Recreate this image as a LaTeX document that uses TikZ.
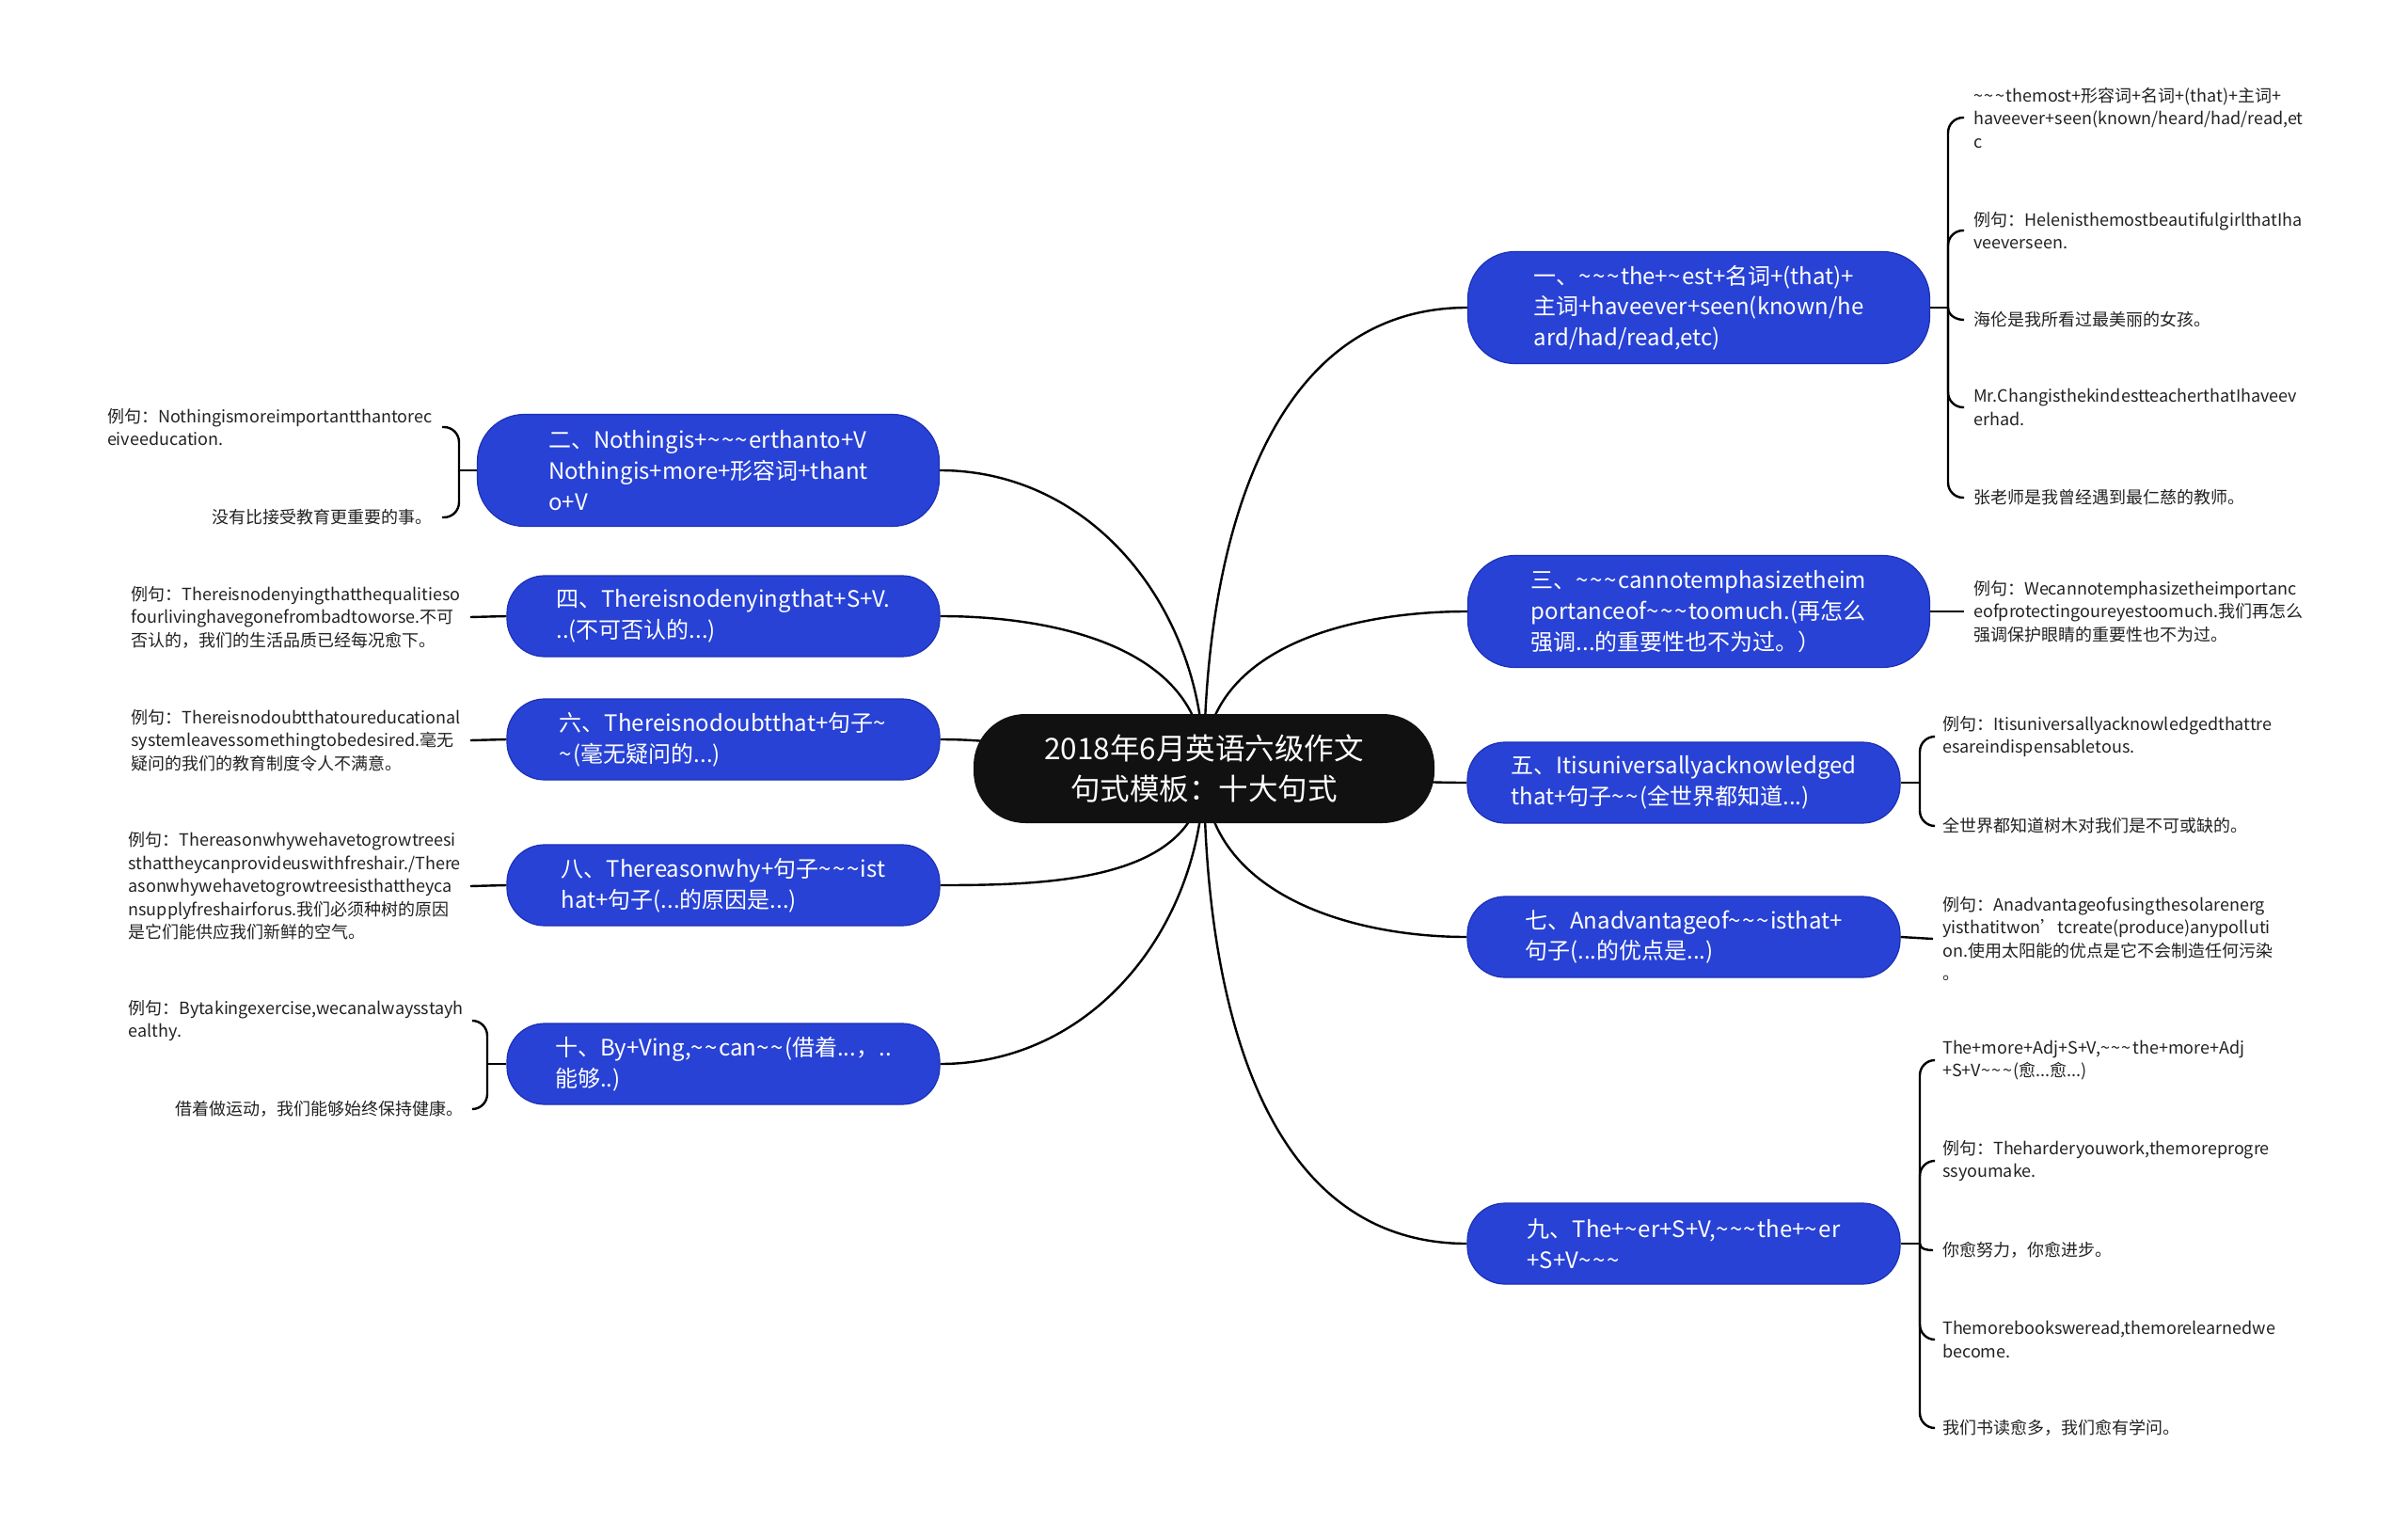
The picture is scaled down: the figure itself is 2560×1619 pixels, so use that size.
\documentclass[tikz,border=0pt]{standalone}
\usepackage{fontspec}
\setmainfont{Noto Sans CJK SC}
\usetikzlibrary{backgrounds}

\definecolor{topicblue}{RGB}{40,66,214}
\definecolor{topicline}{RGB}{28,48,180}
\definecolor{rootblack}{RGB}{17,17,17}
\definecolor{leaftext}{RGB}{34,34,34}

\newcommand{\tld}{\string~\kern1.5pt}

\tikzset{
  root/.style={fill=rootblack, text=white, rounded corners=55pt, align=center,
    minimum width=490pt, minimum height=116pt, inner sep=0pt,
    font=\fontsize{31.5}{42.4}\selectfont},
  topic/.style={fill=topicblue, draw=topicline, line width=1.2pt, text=white,
    rounded corners=40pt, align=left, minimum width=460pt, minimum height=86pt,
    inner sep=0pt, font=\fontsize{24}{32.6}\selectfont},
  tall/.style={minimum width=491pt, minimum height=119pt, rounded corners=50pt},
  leaf/.style={align=left, text=leaftext, inner xsep=10pt, inner ysep=2pt,
    font=\fontsize{18}{24.5}\selectfont},
  link/.style={line width=2.4pt, black},
  brace/.style={rounded corners=16pt}
}

\begin{document}
\begin{tikzpicture}[x=1pt,y=1pt]
    \useasboundingbox (0,0) rectangle (2560,-1619);

    %
    \node[root] (root) at (1280,-817) {2018年6月英语六级作文\\句式模板：十大句式};

    %
    \node[topic, tall] (n1) at (1806,-327) {一、\tld\tld\tld the+\tld est+名词+(that)+\\主词+haveever+seen(known/he\\ard/had/read,etc)};
    \node[topic, tall] (n3) at (1806,-650) {三、\tld\tld\tld cannotemphasizetheim\\portanceof\tld\tld\tld toomuch.(再怎么\\强调...的重要性也不为过。）};
    \node[topic] (n5) at (1790,-832) {五、Itisuniversallyacknowledged\\that+句子\tld\tld(全世界都知道...)};
    \node[topic] (n7) at (1790,-996) {七、Anadvantageof\tld\tld\tld isthat+\\句子(...的优点是...)};
    \node[topic] (n9) at (1790,-1322) {九、The+\tld er+S+V,\tld\tld\tld the+\tld er\\+S+V\tld\tld\tld};

    %
    \node[topic, tall] (n2) at (753,-500) {二、Nothingis+\tld\tld\tld erthanto+V\\Nothingis+more+形容词+thant\\o+V};
    \node[topic] (n4) at (769,-655) {四、Thereisnodenyingthat+S+V.\\..(不可否认的...)};
    \node[topic] (n6) at (769,-786) {六、Thereisnodoubtthat+句子\tld\\\tld(毫无疑问的...)};
    \node[topic] (n8) at (769,-941) {八、Thereasonwhy+句子\tld\tld\tld ist\\hat+句子(...的原因是...)};
    \node[topic] (n10) at (769,-1131) {十、By+Ving,\tld\tld can\tld\tld(借着...，..\\能够..)};

    %
    \begin{scope}[on background layer]
        \fill[white] (0,0) rectangle (2560,-1619);
        \draw[link] (root.center) to[out=90,in=180] (n1.west);
        \draw[link] (root.center) to[out=90,in=180] (n3.west);
        \draw[link] (root.center) to[out=0,in=180] (n5.west);
        \draw[link] (root.center) to[out=-90,in=180] (n7.west);
        \draw[link] (root.center) to[out=-90,in=180] (n9.west);
        \draw[link] (root.center) to[out=90,in=0] (n2.east);
        \draw[link] (root.center) to[out=90,in=0] (n4.east);
        \draw[link] (root.center) to[out=180,in=0] (n6.east);
        \draw[link] (root.center) to[out=-90,in=0] (n8.east);
        \draw[link] (root.center) to[out=-90,in=0] (n10.east);
    \end{scope}

    %
    \coordinate (j1) at (2071,-327);
    \node[leaf, anchor=west] (l1a) at (2088,-125) {\tld\tld\tld themost+形容词+名词+(that)+主词+\\haveever+seen(known/heard/had/read,et\\c};
    \node[leaf, anchor=west] (l1b) at (2088,-245) {例句：HelenisthemostbeautifulgirlthatIha\\veeverseen.};
    \node[leaf, anchor=west] (l1c) at (2088,-340) {海伦是我所看过最美丽的女孩。};
    \node[leaf, anchor=west] (l1d) at (2088,-433) {Mr.ChangisthekindestteacherthatIhaveev\\erhad.};
    \node[leaf, anchor=west] (l1e) at (2088,-529) {张老师是我曾经遇到最仁慈的教师。};
    \draw[link] (n1.east) -- (j1);
    \draw[link, brace] (j1) |- (l1a.west);
    \draw[link, brace] (j1) |- (l1b.west);
    \draw[link] (j1) to[out=-90,in=180] (l1c.west);
    \draw[link, brace] (j1) |- (l1d.west);
    \draw[link, brace] (j1) |- (l1e.west);

    %
    \node[leaf, anchor=west] (l3) at (2088,-650) {例句：Wecannotemphasizetheimportanc\\eofprotectingoureyestoomuch.我们再怎么\\强调保护眼睛的重要性也不为过。};
    \draw[link] (n3.east) -- (l3.west);

    %
    \coordinate (j5) at (2041,-832);
    \node[leaf, anchor=west] (l5a) at (2055,-783) {例句：Itisuniversallyacknowledgedthattre\\esareindispensabletous.};
    \node[leaf, anchor=west] (l5b) at (2055,-878) {全世界都知道树木对我们是不可或缺的。};
    \draw[link] (n5.east) -- (j5);
    \draw[link, brace] (j5) |- (l5a.west);
    \draw[link, brace] (j5) |- (l5b.west);

    %
    \node[leaf, anchor=west] (l7) at (2055,-998) {例句：Anadvantageofusingthesolarenerg\\yisthatitwon’tcreate(produce)anypolluti\\on.使用太阳能的优点是它不会制造任何污染\\。};
    \draw[link] (n7.east) -- (l7.west);

    %
    \coordinate (j9) at (2041,-1322);
    \node[leaf, anchor=west] (l9a) at (2055,-1127) {The+more+Adj+S+V,\tld\tld\tld the+more+Adj\\+S+V\tld\tld\tld(愈...愈...)};
    \node[leaf, anchor=west] (l9b) at (2055,-1234) {例句：Theharderyouwork,themoreprogre\\ssyoumake.};
    \node[leaf, anchor=west] (l9c) at (2055,-1329) {你愈努力，你愈进步。};
    \node[leaf, anchor=west] (l9d) at (2055,-1424) {Themorebooksweread,themorelearnedwe\\become.};
    \node[leaf, anchor=west] (l9e) at (2055,-1518) {我们书读愈多，我们愈有学问。};
    \draw[link] (n9.east) -- (j9);
    \draw[link, brace] (j9) |- (l9a.west);
    \draw[link, brace] (j9) |- (l9b.west);
    \draw[link] (j9) to[out=-90,in=180] (l9c.west);
    \draw[link, brace] (j9) |- (l9d.west);
    \draw[link, brace] (j9) |- (l9e.west);

    %
    \coordinate (j2) at (488,-500);
    \node[leaf, anchor=east] (l2a) at (470,-454) {例句：Nothingismoreimportantthantorec\\eiveeducation.};
    \node[leaf, anchor=east] (l2b) at (470,-550) {没有比接受教育更重要的事。};
    \draw[link] (n2.west) -- (j2);
    \draw[link, brace] (j2) |- (l2a.east);
    \draw[link, brace] (j2) |- (l2b.east);

    %
    \node[leaf, anchor=east] (l4) at (500,-656) {例句：Thereisnodenyingthatthequalitieso\\fourlivinghavegonefrombadtoworse.不可\\否认的，我们的生活品质已经每况愈下。};
    \draw[link] (n4.west) -- (l4.east);

    \node[leaf, anchor=east] (l6) at (500,-787) {例句：Thereisnodoubtthatoureducational\\systemleavessomethingtobedesired.毫无\\疑问的我们的教育制度令人不满意。};
    \draw[link] (n6.west) -- (l6.east);

    \node[leaf, anchor=east] (l8) at (500,-942) {例句：Thereasonwhywehavetogrowtreesi\\sthattheycanprovideuswithfreshair./There\\asonwhywehavetogrowtreesisthattheyca\\nsupplyfreshairforus.我们必须种树的原因\\是它们能供应我们新鲜的空气。};
    \draw[link] (n8.west) -- (l8.east);

    %
    \coordinate (j10) at (518,-1131);
    \node[leaf, anchor=east] (l10a) at (503,-1085) {例句：Bytakingexercise,wecanalwaysstayh\\ealthy.};
    \node[leaf, anchor=east] (l10b) at (503,-1179) {借着做运动，我们能够始终保持健康。};
    \draw[link] (n10.west) -- (j10);
    \draw[link, brace] (j10) |- (l10a.east);
    \draw[link, brace] (j10) |- (l10b.east);

\end{tikzpicture}
\end{document}
